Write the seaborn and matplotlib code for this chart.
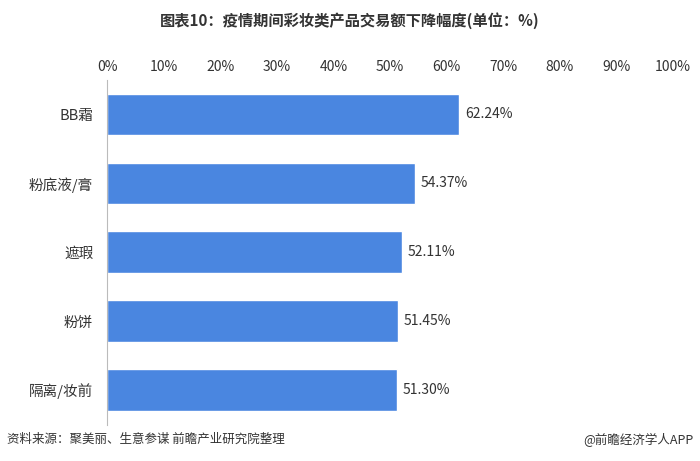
import matplotlib.pyplot as plt
import seaborn as sns
import pandas as pd

categories = ['BB霜', '粉底液/膏', '遮瑕', '粉饼', '隔离/妆前']
values = [62.24, 54.37, 52.11, 51.45, 51.30]
ticks = [0, 10, 20, 30, 40, 50, 60, 70, 80, 90, 100]

sns.set_style("white")
plt.rcParams['font.family'] = ['Noto Sans CJK SC', 'DejaVu Sans']

df = pd.DataFrame({'cat': categories, 'val': values})

fig = plt.figure(figsize=(7, 4.61), dpi=100)
ax = fig.add_axes([0.153, 0.079, 0.808, 0.748])
sns.barplot(data=df, x='val', y='cat', color='#4a86e0', saturation=1, width=0.6, ax=ax)

ax.set_xlim(0, 100)
ax.set_xticks(ticks)
ax.set_xticklabels([f'{t}%' for t in ticks], fontsize=10, color='#333333')
ax.xaxis.tick_top()
ax.tick_params(axis='x', length=0, pad=4)
ax.tick_params(axis='y', length=0, labelsize=10.5, labelcolor='#333333', pad=10)
ax.set_xlabel('')
ax.set_ylabel('')
for s in ax.spines.values():
    s.set_visible(False)
ax.spines['left'].set_visible(True)
ax.spines['left'].set_color('#bbbbbb')

for i, v in enumerate(values):
    ax.text(v + 1, i, f'{v:.2f}%', va='center', ha='left', fontsize=10, color='#333333')

fig.text(0.5, 0.955, '图表10：疫情期间彩妆类产品交易额下降幅度(单位：%)', ha='center', va='center',
         fontsize=11, fontweight='bold', color='#333333')
fig.text(0.01, 0.046, '资料来源：聚美丽、生意参谋 前瞻产业研究院整理', ha='left', va='center', fontsize=9, color='#333333')
fig.text(0.99, 0.046, '@前瞻经济学人APP', ha='right', va='center', fontsize=9, color='#333333')

fig.savefig('out.png', dpi=100)
